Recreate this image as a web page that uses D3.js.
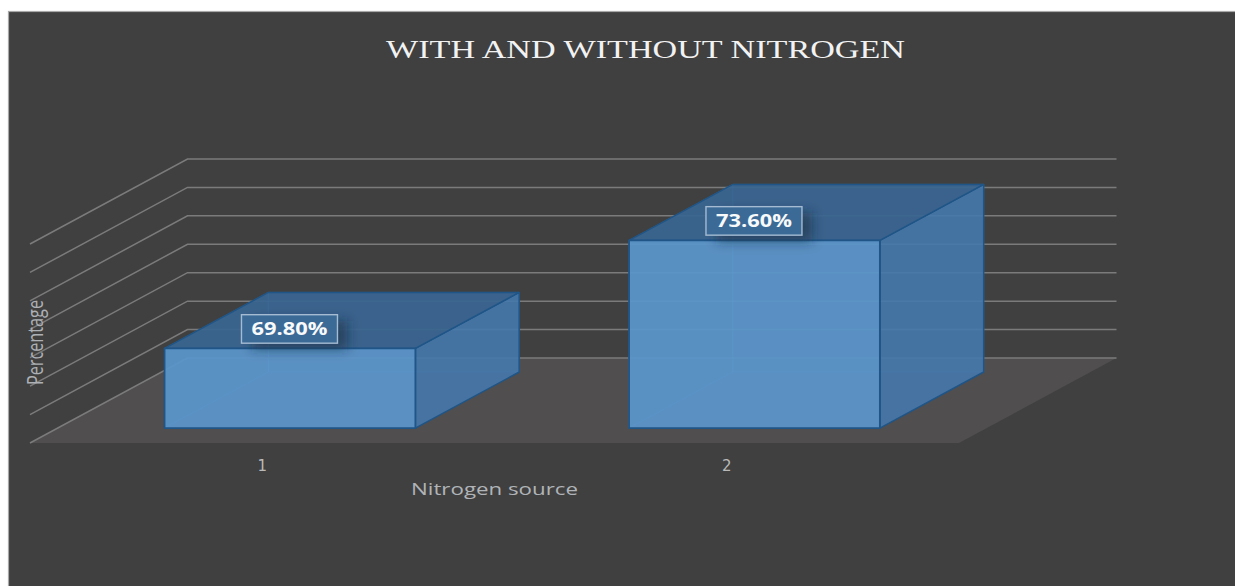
<!DOCTYPE html>
<html>
<head>
<meta charset="utf-8">
<script src="https://cdn.jsdelivr.net/npm/d3@7"></script>
<style>
  html, body { margin: 0; padding: 0; background: #fff; overflow: hidden; }
  svg { display: block; }
</style>
</head>
<body>
<div id="chart"></div>
<script>
// Chart data
const categories = ["1", "2"];
const percentages = [69.8, 73.6];
const axisMin = 67;
const axisMax = 74;
const chartTitle = "WITH AND WITHOUT NITROGEN";
const xTitle = "Nitrogen source";
const yTitle = "Percentage";

const width = 1235, height = 586;

// Oblique projection: depth 0 is the front of the floor, depth 1 the back wall.
const depthDx = 157.5, depthDy = 85;
const barFront = 0.176, barBack = 0.835;

const x = d3.scaleBand().domain(categories).range([30, 959])
  .paddingInner(0.46).paddingOuter(0.23);
const y = d3.scaleLinear().domain([axisMin, axisMax]).range([358, 159]);

const px = (sx, depth) => sx + depthDx * depth;
const py = (v, depth) => y(v) + depthDy * (1 - depth);
const pt = (sx, v, depth) => [px(sx, depth), py(v, depth)];
const line = d3.line();
const poly = pts => line(pts) + "Z";

const svg = d3.select("#chart").append("svg")
  .attr("width", width).attr("height", height);

const defs = svg.append("defs");
defs.append("filter").attr("id", "labelShadow")
  .attr("x", "-40%").attr("y", "-100%").attr("width", "180%").attr("height", "300%")
  .append("feGaussianBlur").attr("stdDeviation", 6);

// Chart area
svg.append("rect").attr("x", 8.5).attr("y", 11.5)
  .attr("width", width).attr("height", height)
  .attr("fill", "#404040").attr("stroke", "#a8a8a8").attr("stroke-width", 1.2);

svg.append("text").attr("x", 645.5).attr("y", 58)
  .attr("text-anchor", "middle")
  .attr("font-family", "'Liberation Serif', serif")
  .attr("font-size", 26)
  .attr("textLength", 519).attr("lengthAdjust", "spacingAndGlyphs")
  .attr("fill", "#f2f2f2")
  .text(chartTitle);

// Floor
const [fx0, fx1] = x.range();
svg.append("path")
  .attr("d", poly([pt(fx0, axisMin, 0), pt(fx1, axisMin, 0), pt(fx1, axisMin, 1), pt(fx0, axisMin, 1)]))
  .attr("fill", "#504e4e");

// Gridlines run along the side wall, then across the back wall
svg.append("g").selectAll("path")
  .data(d3.range(axisMin, axisMax + 1))
  .join("path")
  .attr("d", v => line([pt(fx0, v, 0), pt(fx0, v, 1), pt(fx1, v, 1)]))
  .attr("fill", "none")
  .attr("stroke", "#7b7b7b")
  .attr("stroke-width", 1.5);

// Bars
const edge = "#1f5587";
const bars = svg.append("g").selectAll("g")
  .data(categories.map((c, i) => ({ c, v: percentages[i] })))
  .join("g");

const corners = d => {
  const l = x(d.c), r = l + x.bandwidth();
  return { l, r, v: d.v, b: axisMin };
};

// Inner faces, seen faintly through the front of the box
bars.append("path")
  .attr("d", d => { const k = corners(d); return poly([pt(k.l, k.b, barFront), pt(k.l, k.b, barBack), pt(k.l, k.v, barBack), pt(k.l, k.v, barFront)]); })
  .attr("fill", "#5b9bd5").attr("fill-opacity", 0.12)
  .attr("stroke", "#5b9bd5").attr("stroke-opacity", 0.45).attr("stroke-width", 1);
bars.append("path")
  .attr("d", d => { const k = corners(d); return poly([pt(k.l, k.b, barBack), pt(k.r, k.b, barBack), pt(k.r, k.v, barBack), pt(k.l, k.v, barBack)]); })
  .attr("fill", "#5b9bd5").attr("fill-opacity", 0.1)
  .attr("stroke", "#5b9bd5").attr("stroke-opacity", 0.45).attr("stroke-width", 1);

// Outer faces
bars.append("path")
  .attr("d", d => { const k = corners(d); return poly([pt(k.r, k.b, barFront), pt(k.r, k.b, barBack), pt(k.r, k.v, barBack), pt(k.r, k.v, barFront)]); })
  .attr("fill", "#4578ab").attr("fill-opacity", 0.9)
  .attr("stroke", edge).attr("stroke-width", 1.5).attr("stroke-linejoin", "round");
bars.append("path")
  .attr("d", d => { const k = corners(d); return poly([pt(k.l, k.v, barFront), pt(k.r, k.v, barFront), pt(k.r, k.v, barBack), pt(k.l, k.v, barBack)]); })
  .attr("fill", "#396591").attr("fill-opacity", 0.92)
  .attr("stroke", edge).attr("stroke-width", 1.5).attr("stroke-linejoin", "round");
bars.append("path")
  .attr("d", d => { const k = corners(d); return poly([pt(k.l, k.b, barFront), pt(k.r, k.b, barFront), pt(k.r, k.v, barFront), pt(k.l, k.v, barFront)]); })
  .attr("fill", "#5b96cc").attr("fill-opacity", 0.92)
  .attr("stroke", edge).attr("stroke-width", 1.8).attr("stroke-linejoin", "round");

// Value labels
const boxW = 96, boxH = 28.5;
const labels = bars.append("g")
  .attr("transform", d => {
    const k = corners(d);
    return `translate(${px((k.l + k.r) / 2, barFront) - 0.5},${py(d.v, barFront) - 19.5})`;
  });
labels.append("rect")
  .attr("x", -boxW / 2 + 10).attr("y", -boxH / 2 + 6)
  .attr("width", boxW).attr("height", boxH)
  .attr("fill", "#10263c").attr("fill-opacity", 0.55)
  .attr("filter", "url(#labelShadow)");
labels.append("rect")
  .attr("x", -boxW / 2).attr("y", -boxH / 2)
  .attr("width", boxW).attr("height", boxH)
  .attr("fill", "#3c6a96")
  .attr("stroke", "#a4bbd2").attr("stroke-width", 1.4);
labels.append("text")
  .attr("text-anchor", "middle").attr("y", 6.5)
  .attr("font-family", "'Open Sans', sans-serif")
  .attr("font-weight", 700).attr("font-size", 17.5)
  .attr("textLength", 76).attr("lengthAdjust", "spacingAndGlyphs")
  .attr("fill", "#f7f9fb")
  .text(d => d3.format(".2f")(d.v) + "%");

// Category axis along the front of the floor
const xAxis = svg.append("g")
  .attr("transform", `translate(0,${py(axisMin, 0)})`)
  .call(d3.axisBottom(x).tickSize(0).tickPadding(17));
xAxis.select(".domain").remove();
xAxis.selectAll("text")
  .attr("font-family", "'DejaVu Sans', sans-serif")
  .attr("font-size", 15).attr("fill", "#b9b9b9");

// Axis titles
svg.append("text").attr("x", 494.5).attr("y", 494.5)
  .attr("text-anchor", "middle")
  .attr("font-family", "'Open Sans', sans-serif")
  .attr("font-size", 17)
  .attr("textLength", 167).attr("lengthAdjust", "spacingAndGlyphs")
  .attr("fill", "#b0b4b8")
  .text(xTitle);

svg.append("text")
  .attr("transform", "translate(42.5,342.5) rotate(-90)")
  .attr("text-anchor", "middle")
  .attr("font-family", "'Open Sans', sans-serif")
  .attr("font-size", 22)
  .attr("textLength", 85).attr("lengthAdjust", "spacingAndGlyphs")
  .attr("fill", "#adb0b4")
  .text(yTitle);
</script>
</body>
</html>
